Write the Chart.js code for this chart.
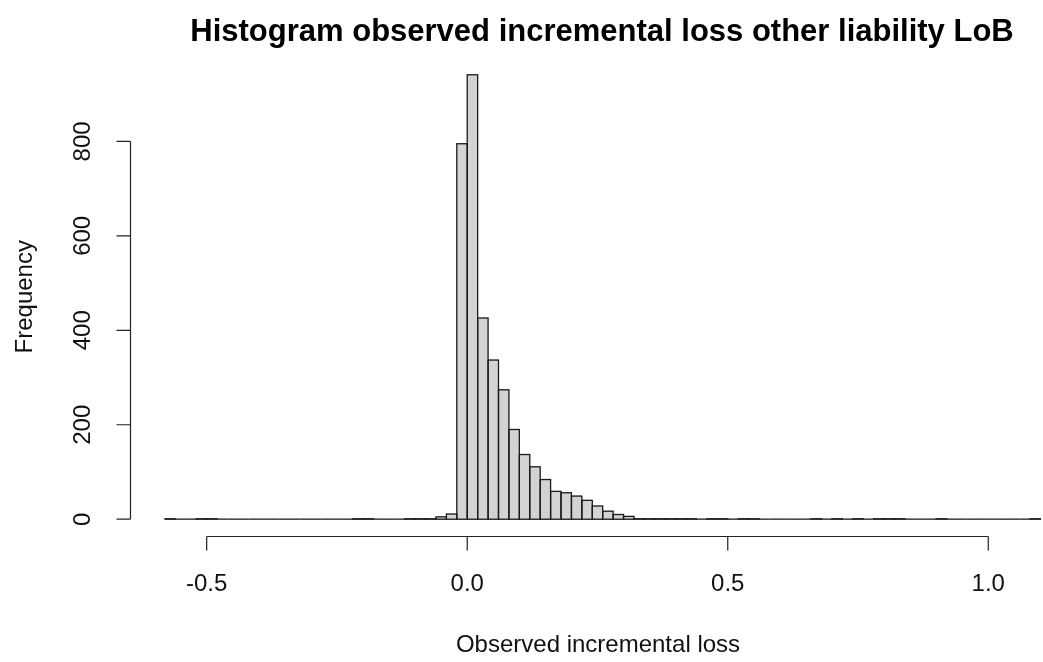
<!DOCTYPE html>
<html>
<head>
<meta charset="utf-8">
<script src="https://cdn.jsdelivr.net/npm/chart.js@4.4.1/dist/chart.umd.min.js"></script>
<style>
  html, body { margin: 0; padding: 0; background: #fff; }
  #wrap { width: 1043px; height: 662px; }
</style>
</head>
<body>
<div id="wrap"><canvas id="myChart" width="1043" height="662"></canvas></div>
<script>
// histogram breaks (width 0.02) and counts
const breaks = [-0.58, -0.56, -0.54, -0.52, -0.50, -0.48, -0.46, -0.44, -0.42, -0.40,
  -0.38, -0.36, -0.34, -0.32, -0.30, -0.28, -0.26, -0.24, -0.22, -0.20,
  -0.18, -0.16, -0.14, -0.12, -0.10, -0.08, -0.06, -0.04, -0.02, 0.00,
  0.02, 0.04, 0.06, 0.08, 0.10, 0.12, 0.14, 0.16, 0.18, 0.20,
  0.22, 0.24, 0.26, 0.28, 0.30, 0.32, 0.34, 0.36, 0.38, 0.40,
  0.42, 0.44, 0.46, 0.48, 0.50, 0.52, 0.54, 0.56, 0.58, 0.60,
  0.62, 0.64, 0.66, 0.68, 0.70, 0.72, 0.74, 0.76, 0.78, 0.80,
  0.82, 0.84, 0.86, 0.88, 0.90, 0.92, 0.94, 0.96, 0.98, 1.00,
  1.02, 1.04, 1.06, 1.08, 1.10];
const counts = [1, 0, 0, 1, 1, 0, 0, 0, 0, 0,
  0, 0, 0, 0, 0, 0, 0, 0, 1, 1,
  0, 0, 0, 1, 1, 1, 5, 11, 795, 941,
  426, 337, 274, 190, 137, 111, 84, 59, 56, 49,
  40, 28, 17, 10, 6, 1, 1, 1, 1, 1,
  1, 0, 1, 1, 0, 1, 1, 0, 0, 0,
  0, 0, 1, 0, 1, 0, 1, 0, 1, 1,
  1, 0, 0, 0, 1, 0, 0, 0, 0, 0,
  0, 0, 0, 1];
const xTicks = [-0.5, 0.0, 0.5, 1.0];
const xTickLabels = ['-0.5', '0.0', '0.5', '1.0'];
const yTicks = [0, 200, 400, 600, 800];

const titleText = 'Histogram observed incremental loss other liability LoB';
const xTitle = 'Observed incremental loss';
const yTitle = 'Frequency';

const points = counts.map((c, i) => ({ x: (breaks[i] + breaks[i + 1]) / 2, y: c }));

const FONT = '"Liberation Sans", Arial, sans-serif';

// R-style axes, outlines and titles drawn from the chart's own scales
const rStyle = {
  id: 'rStyle',
  afterDatasetsDraw(chart) {
    const ctx = chart.ctx;
    const xs = chart.scales.x, ys = chart.scales.y;
    const area = chart.chartArea;

    // bar outlines (also gives the baseline for empty bins)
    ctx.save();
    ctx.strokeStyle = '#1a1a1a';
    ctx.lineWidth = 1.3;
    chart.getDatasetMeta(0).data.forEach(bar => {
      const p = bar.getProps(['x', 'y', 'base', 'width'], true);
      ctx.strokeRect(p.x - p.width / 2, p.y, p.width, p.base - p.y);
    });
    ctx.restore();

    ctx.save();
    ctx.strokeStyle = '#222';
    ctx.fillStyle = '#111';
    ctx.lineWidth = 1.2;

    // x axis
    const axY = 536.5;
    ctx.beginPath();
    ctx.moveTo(xs.getPixelForValue(xTicks[0]), axY);
    ctx.lineTo(xs.getPixelForValue(xTicks[xTicks.length - 1]), axY);
    xTicks.forEach(v => {
      const px = xs.getPixelForValue(v);
      ctx.moveTo(px, axY);
      ctx.lineTo(px, axY + 14);
    });
    ctx.stroke();
    ctx.font = '24px ' + FONT;
    ctx.textAlign = 'center';
    ctx.textBaseline = 'middle';
    xTicks.forEach((v, i) => ctx.fillText(xTickLabels[i], xs.getPixelForValue(v), 584));

    // y axis
    const axX = 130.5;
    ctx.beginPath();
    ctx.moveTo(axX, ys.getPixelForValue(yTicks[0]));
    ctx.lineTo(axX, ys.getPixelForValue(yTicks[yTicks.length - 1]));
    yTicks.forEach(v => {
      const py = ys.getPixelForValue(v);
      ctx.moveTo(axX, py);
      ctx.lineTo(axX - 14, py);
    });
    ctx.stroke();
    yTicks.forEach(v => {
      ctx.save();
      ctx.translate(83, ys.getPixelForValue(v));
      ctx.rotate(-Math.PI / 2);
      ctx.fillText(String(v), 0, 0);
      ctx.restore();
    });

    // titles
    ctx.fillText(xTitle, 598, 645);
    ctx.save();
    ctx.translate(25, (area.top + axY) / 2);
    ctx.rotate(-Math.PI / 2);
    ctx.fillText(yTitle, 0, 0);
    ctx.restore();

    ctx.font = 'bold 31px ' + FONT;
    ctx.fillStyle = '#000';
    ctx.fillText(titleText, 602, 32);
    ctx.restore();
  }
};

const config = {
  type: 'bar',
  data: {
    datasets: [{
      label: 'Frequency',
      data: points,
      backgroundColor: '#d3d3d3',
      borderWidth: 0,
      barPercentage: 1.0,
      categoryPercentage: 1.0
    }]
  },
  options: {
    responsive: false,
    animation: false,
    layout: { padding: { left: 130, right: 0, top: 57, bottom: 125 } },
    plugins: {
      legend: { display: false },
      title: { display: false },
      tooltip: { enabled: false }
    },
    scales: {
      x: {
        type: 'linear',
        min: -0.6472,
        max: 1.105,
        offset: false,
        display: false
      },
      y: {
        min: -37.64,
        max: 978.64,
        display: false
      }
    }
  },
  plugins: [rStyle]
};

let ctx = document.getElementById('myChart').getContext('2d');
var myChart = new Chart(ctx, config);
</script>
</body>
</html>
